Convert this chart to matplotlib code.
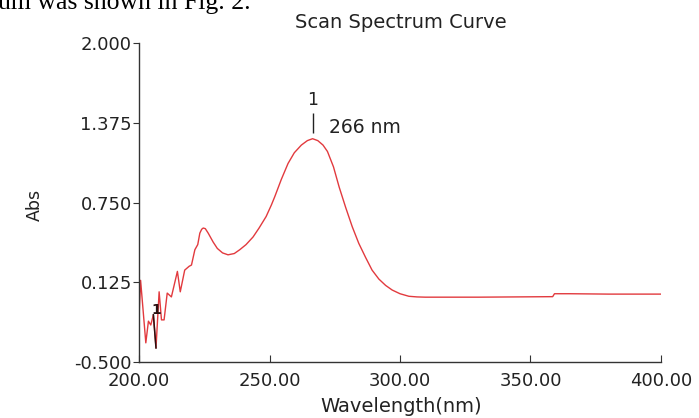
import matplotlib
matplotlib.use("Agg")
import matplotlib.pyplot as plt

# scan spectrum (wavelength in nm, absorbance)
wavelength = [200.0, 200.6, 202.6, 203.6, 204.5, 205.5, 206.5, 207.7, 208.6, 209.6,
              210.8, 212.4, 214.7, 215.8, 217.5, 219.2, 220.1, 221.4, 222.5, 223.3,
              224.0, 224.6, 225.4, 226.5, 228.4, 230.0, 232.0, 234.1, 236.5, 238.6,
              241.0, 243.7, 246.0, 248.7, 250.7, 252.0, 254.5, 257.1, 259.5, 262.2,
              264.5, 266.5, 268.5, 270.5, 272.2, 274.5, 276.7, 279.2, 281.7, 284.2,
              286.8, 289.3, 291.9, 294.5, 297.0, 300.0, 303.4, 306.5, 309.7, 330.0,
              358.5, 359.2, 365.0, 380.0, 399.8]
absorbance = [-0.15, 0.14, -0.35, -0.18, -0.21, -0.13, -0.39, 0.05, -0.17, -0.17,
              0.04, 0.01, 0.21, 0.05, 0.22, 0.25, 0.26, 0.38, 0.42, 0.51,
              0.54, 0.55, 0.545, 0.51, 0.44, 0.39, 0.355, 0.34, 0.35, 0.38,
              0.42, 0.48, 0.55, 0.64, 0.73, 0.795, 0.93, 1.056, 1.14, 1.20,
              1.235, 1.25, 1.235, 1.20, 1.15, 1.03, 0.87, 0.71, 0.56, 0.43,
              0.32, 0.22, 0.15, 0.10, 0.064, 0.035, 0.015, 0.010, 0.008, 0.008,
              0.012, 0.035, 0.035, 0.032, 0.032]

x_ticks = [200, 250, 300, 350, 400]
y_ticks = [-0.5, 0.125, 0.75, 1.375, 2.0]

peak_wl = 266.5
peak_label = "266 nm"
noise_peak_idx = 6  # the marked dip near 206 nm

fig = plt.figure(figsize=(6.99, 4.18), dpi=100)
ax = fig.add_axes([0.1989, 0.134, 0.7467, 0.7631])

ax.plot(wavelength, absorbance, color="#e23a3e", lw=1.0)
# marked point drawn dark, like the instrument software does
ax.plot(wavelength[noise_peak_idx - 1:noise_peak_idx + 1],
        absorbance[noise_peak_idx - 1:noise_peak_idx + 1], color="#2a1010", lw=1.1)
ax.text(wavelength[noise_peak_idx] + 0.3, -0.09, "1", fontsize=10, color="#2a1010",
        ha="center", va="center", fontweight="bold")

# peak marker
peak_abs = max(absorbance)
ax.vlines(peak_wl, peak_abs + 0.045, peak_abs + 0.2, color="#222222", lw=1.0)
ax.text(peak_wl, peak_abs + 0.3, "1", fontsize=12.5, color="#222222", ha="center", va="center")
ax.text(peak_wl + 6.3, peak_abs + 0.09, peak_label, fontsize=13.5, color="#222222",
        ha="left", va="center")

ax.set_xlim(200, 400)
ax.set_ylim(-0.5, 2.0)
ax.set_xticks(x_ticks)
ax.set_xticklabels(["%.2f" % v for v in x_ticks])
ax.set_yticks(y_ticks)
ax.set_yticklabels(["%.3f" % v for v in y_ticks])

for side in ["top", "right"]:
    ax.spines[side].set_visible(False)
for side in ["left", "bottom"]:
    ax.spines[side].set_color("#333333")
    ax.spines[side].set_linewidth(1.0)

ax.tick_params(axis="x", direction="in", length=5, pad=7, labelsize=13,
               colors="#333333", labelcolor="#222222")
ax.tick_params(axis="y", direction="out", length=4, pad=1, labelsize=13,
               colors="#333333", labelcolor="#222222")

fig.text(401 / 699, 1 - 22 / 418, "Scan Spectrum Curve", fontsize=14,
         ha="center", va="center", color="#222222")
fig.text(401 / 699, 1 - 407 / 418, "Wavelength(nm)", fontsize=14,
         ha="center", va="center", color="#222222")
fig.text(35 / 699, 1 - 205 / 418, "Abs", fontsize=12.5, rotation=90,
         ha="center", va="center", color="#222222")

# clipped line of the surrounding document text
fig.text(-2 / 699, 1 - 9 / 418, "um was shown in Fig. 2.", fontsize=18.5,
         family="Liberation Serif", ha="left", va="baseline", color="black")

fig.savefig("out.png", dpi=100)
